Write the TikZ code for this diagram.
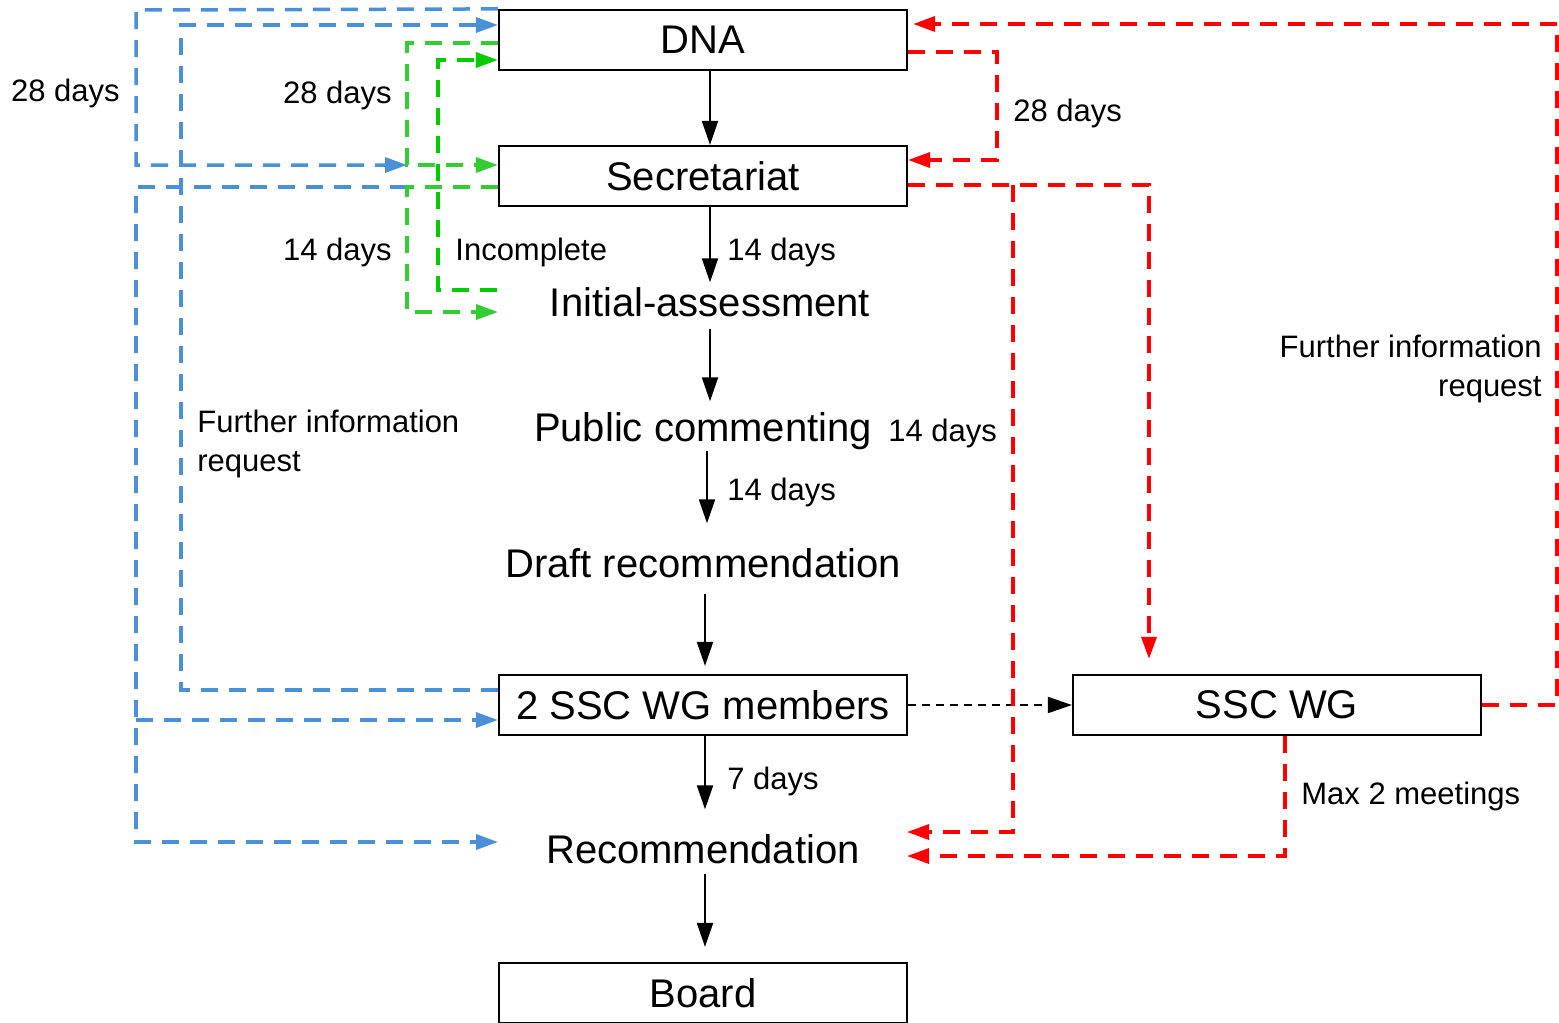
\documentclass[tikz,border=0pt]{standalone}
\usepackage{fontspec}
\setmainfont{Liberation Sans}
\usetikzlibrary{arrows.meta}

\definecolor{flowblue}{RGB}{74,144,217}
\definecolor{flowgreen}{RGB}{51,204,51}
\definecolor{flowdkgreen}{RGB}{0,204,0}
\definecolor{flowred}{RGB}{255,0,0}

\tikzset{
  box/.style={draw, line width=1.1pt, minimum width=204pt, minimum height=30pt, inner sep=0pt, font=\fontsize{20}{23}\selectfont},
  stage/.style={inner sep=0pt, text height=14.3pt, text depth=0pt, font=\fontsize{20}{23}\selectfont},
  lbl/.style={inner sep=0pt, font=\fontsize{15.5}{19.5}\selectfont},
  mainarrow/.style={line width=1pt, -{Triangle[length=12pt,width=8pt]}},
  retpath/.style={line width=1.75pt, dash pattern=on 8.5pt off 5.5pt, -{Triangle[length=11pt,width=7.5pt]}}
}

\begin{document}
\begin{tikzpicture}[x=0.5pt, y=-0.5pt]
        \useasboundingbox (0,0) rectangle (1559,1023);

        % Main column
        \node[box] (dna) at (703,40) {DNA};
        \node[box] (sec) at (703,176) {Secretariat};
        \node[stage] (ia) at (710,302) {Initial-assessment};
        \node[stage] (pc) at (703,427) {Public commenting};
        \node[stage] (dr) at (703,563) {Draft recommendation};
        \node[box] (two) at (703,705) {2 SSC WG members};
        \node[box] (wg) at (1277,705) {SSC WG};
        \node[stage] (rec) at (703,849) {Recommendation};
        \node[box] (board) at (703,993) {Board};

        % Free ends
        \coordinate (gA) at (407,165);
        \coordinate (gB) at (407,187);
        \coordinate (gC) at (498,312);
        \coordinate (gD) at (497,290);
        \coordinate (bR) at (498,842);
        \coordinate (rA) at (907,832);
        \coordinate (rB) at (907,856);

        % Main flow
        \draw[mainarrow] (ia |- dna.south) -- (ia |- sec.north);
        \draw[mainarrow, shorten >=2.5pt] (ia |- sec.south) -- (ia.north);
        \draw[mainarrow, shorten <=6pt, shorten >=5.5pt] (ia.south) -- (ia |- pc.north);
        \draw[mainarrow, shorten <=4.5pt, shorten >=12.5pt] ([xshift=2pt]pc.south) -- ([xshift=2pt]dr.north);
        \draw[mainarrow, shorten <=8pt, shorten >=4pt] ([xshift=1pt]dr.south) -- ([xshift=1pt]two.north);
        \draw[mainarrow, shorten >=12.5pt] ([xshift=1pt]two.south) -- ([xshift=1pt]rec.north);
        \draw[mainarrow, shorten <=5pt, shorten >=7.5pt] ([xshift=1pt]rec.south) -- ([xshift=1pt]board.north);
        \draw[mainarrow, dash pattern=on 4pt off 3pt] (two.east) -- (wg.west);

        % Blue returns
        \draw[retpath, flowblue] (dna.north west) -- (136,10) -- (136,165) -- (gA);
        \draw[retpath, flowblue] ([yshift=7.5pt]two.west) -- (181,690) -- (181,25) -- ([yshift=7.5pt]dna.west);
        \draw[retpath, flowblue] (gB) -- (136,187) -- (136,842) -- (bR);
        \draw[retpath, flowblue] (136,720) -- ([yshift=-7.5pt]two.west);

        % Green returns
        \draw[retpath, flowgreen] ([yshift=-1.5pt]dna.west) -- (407,43) -- (gA) -- ([yshift=5.5pt]sec.west);
        \draw[retpath, flowgreen] ([yshift=-5.5pt]sec.west) -- (gB) -- (407,312) -- (gC);
        \draw[retpath, flowdkgreen] (gD) -- (438,290) -- (438,60) -- ([yshift=-10pt]dna.west);

        % Red returns
        \draw[retpath, flowred, shorten >=2.5pt] (wg.east) -- (1557,705) -- (1557,24) -- ([yshift=8pt]dna.east);
        \draw[retpath, flowred] ([yshift=-6pt]dna.east) -- (997,52) -- (997,160) -- ([yshift=8pt]sec.east);
        \draw[retpath, flowred, shorten >=7.5pt] ([yshift=-4.5pt]sec.east) -- (1149,185) -- ([xshift=-64pt]wg.north);
        \draw[retpath, flowred] (1013,185) -- (1013,832) -- (rA);
        \draw[retpath, flowred] ([xshift=4pt]wg.south) -- (1285,856) -- (rB);

        % Labels
        \node[lbl, anchor=base east] (l28a) at (120,101) {28 days};
        \node[lbl, anchor=base east] (l28b) at (392,103) {28 days};
        \node[lbl, anchor=base east] (l14a) at (392,260) {14 days};
        \node[lbl, anchor=base west] (linc) at (455,260) {Incomplete};
        \node[lbl, anchor=base west] (l14b) at (727,260) {14 days};
        \node[lbl, anchor=base west] (l14c) at (888,441) {14 days};
        \node[lbl, anchor=base west] (l14d) at (727,500) {14 days};
        \node[lbl, anchor=base west] (l28c) at (1013,121) {28 days};
        \node[lbl, anchor=base west] (l7) at (727,789) {7 days};
        \node[lbl, anchor=base west] (lmax) at (1301,804) {Max 2 meetings};
        \node[lbl, align=left, anchor=west] (lfil) at (197,444) {Further information\\request};
        \node[lbl, align=right, anchor=east] (lfir) at (1542,369) {Further information\\request};
    \end{tikzpicture}
\end{document}
